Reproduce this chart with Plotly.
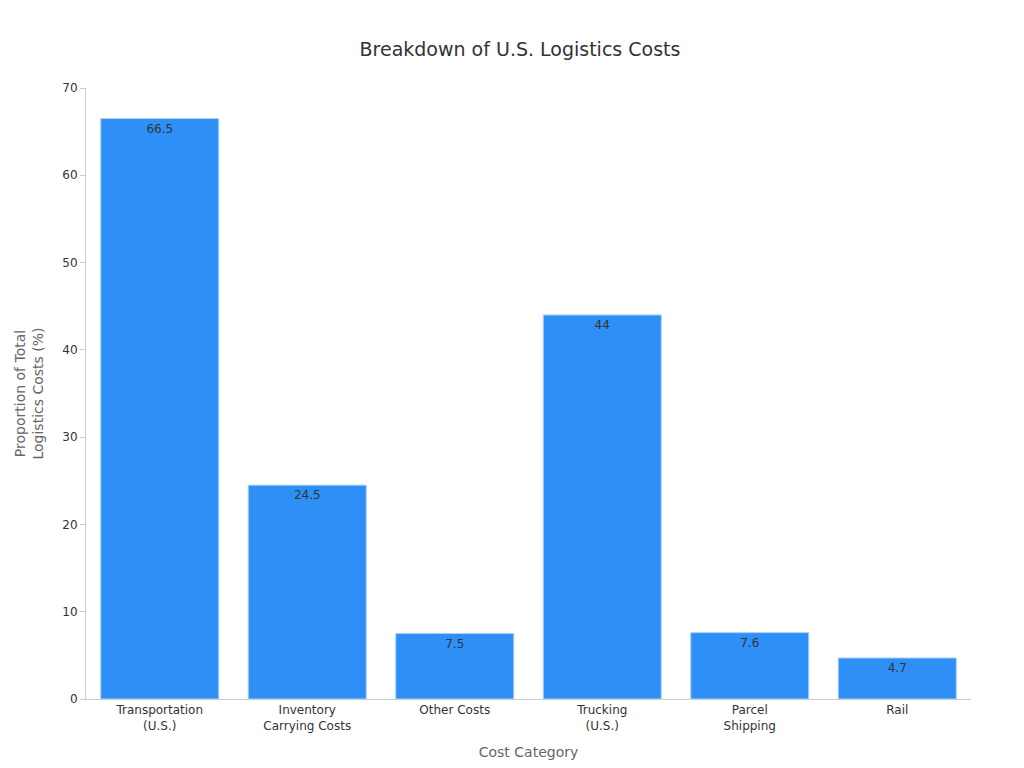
import plotly.graph_objects as go

categories = ["Transportation<br>(U.S.)", "Inventory<br>Carrying Costs", "Other Costs", "Trucking<br>(U.S.)", "Parcel<br>Shipping", "Rail"]
values = [66.5, 24.5, 7.5, 44, 7.6, 4.7]
labels = ["66.5", "24.5", "7.5", "44", "7.6", "4.7"]

fig = go.Figure(go.Bar(
    x=categories, y=values, text=labels, textposition="inside", insidetextanchor="end",
    textfont=dict(color="#333333", size=12),
    marker=dict(color="#2E90F7", line=dict(color="#A9CFF7", width=1)),
))
fig.update_layout(
    width=1024, height=768, plot_bgcolor="white", paper_bgcolor="white",
    font=dict(family="DejaVu Sans", color="#333333", size=12),
    title=dict(text="Breakdown of U.S. Logistics Costs", x=0.5, xanchor="center", y=0.955, font=dict(size=19)),
    margin=dict(l=78, r=61, t=80, b=77),
    bargap=0.2, showlegend=False,
    xaxis=dict(title=dict(text="Cost Category", font=dict(color="#666666", size=14)), showline=True, linecolor="#cccccc",
               tickfont=dict(size=12)),
    yaxis=dict(title=dict(text="Proportion of Total<br>Logistics Costs (%)", font=dict(color="#666666", size=14)),
               range=[0, 70], dtick=10, showgrid=False, showline=True, linecolor="#cccccc",
               ticks="outside", ticklen=5, tickcolor="#cccccc", zeroline=False),
)
fig.write_html("out.html")
